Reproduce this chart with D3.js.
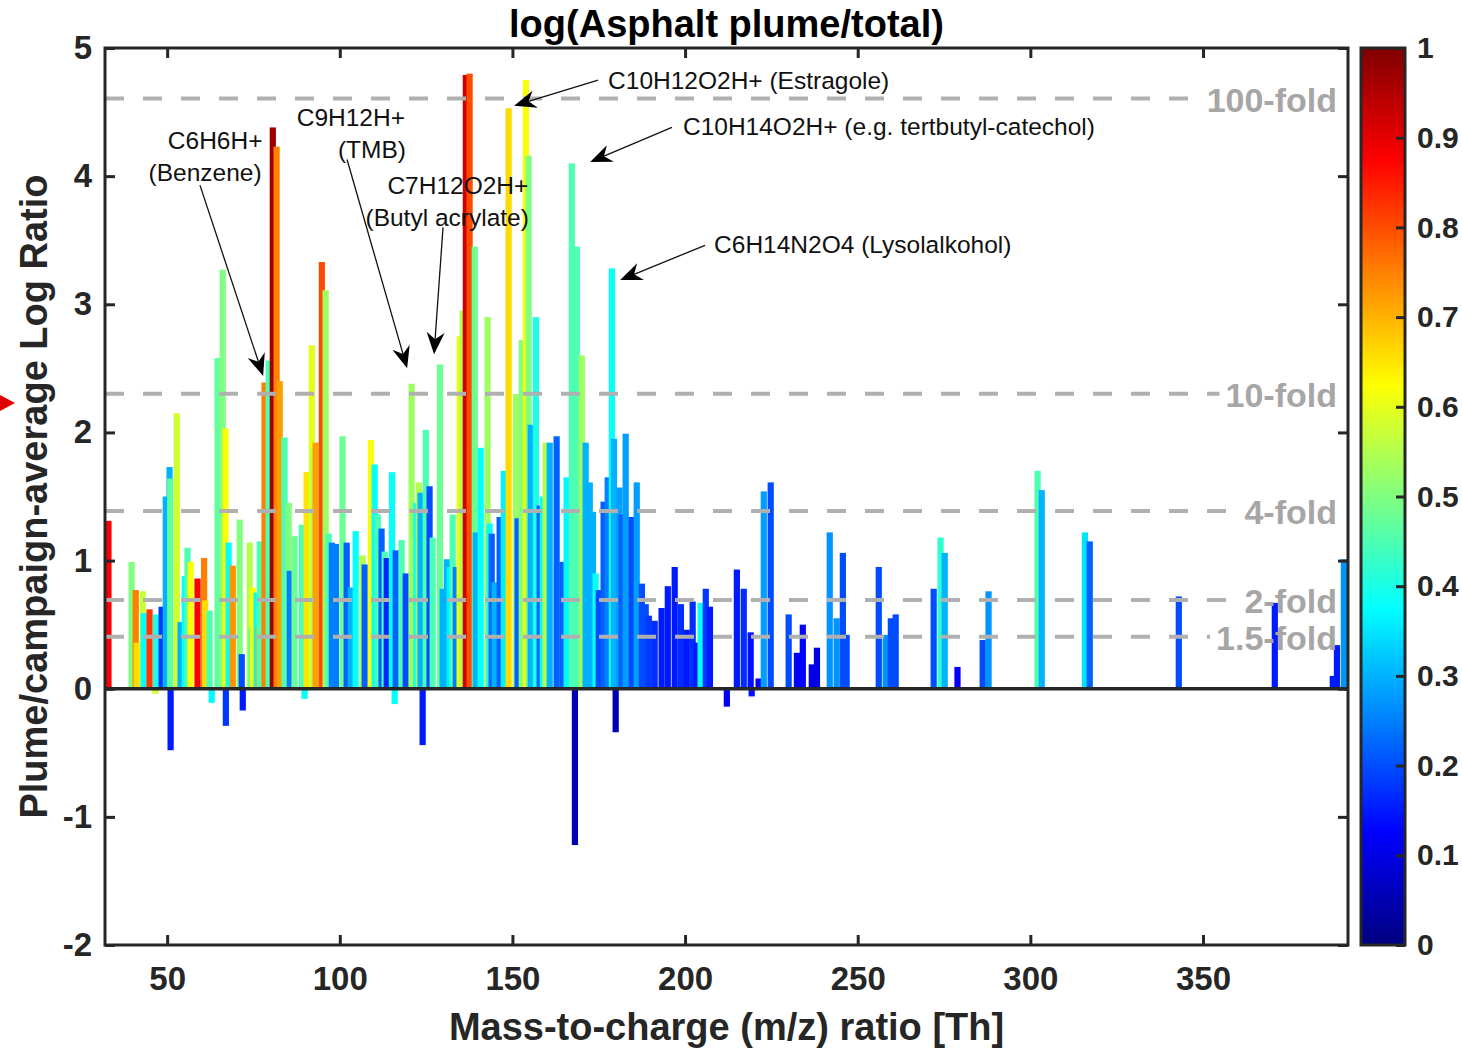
<!DOCTYPE html>
<html>
<head>
<meta charset="utf-8">
<script src="https://cdn.jsdelivr.net/npm/d3@7"></script>
<style>
body { margin: 0; background: #fff; }
text { font-family: Arial, "Liberation Sans", Helvetica, sans-serif; }
</style>
</head>
<body>
<svg id="chart" width="1462" height="1049"></svg>
<script>
// peaks: m/z, log ratio plume/campaign average, colour value (0..1, colourbar)
const mz = [33.0, 39.7, 40.9, 41.2, 42.9, 43.2, 44.9, 46.6, 46.8, 48.4, 49.6, 50.7, 50.9, 51.0, 52.8, 53.9, 55.1, 55.9, 56.8, 58.8,
	60.7, 61.0, 62.3, 62.9, 64.6, 66.1, 66.9, 67.0, 67.8, 69.0, 71.0, 71.6, 71.9, 73.9, 74.5, 74.8, 75.9, 76.5, 76.8, 78.2,
	79.4, 80.6, 81.7, 82.6, 84.0, 85.2, 85.5, 86.9, 89.0, 89.8, 90.4, 91.9, 92.4, 93.0, 94.8, 95.9, 96.8, 97.7, 98.9, 100.8,
	102.0, 103.2, 104.6, 106.6, 107.2, 109.0, 110.1, 111.0, 112.1, 113.0, 113.6, 115.1, 115.9, 116.2, 117.9, 119.1, 120.8, 122.2, 122.9, 123.4,
	124.0, 124.9, 126.0, 126.9, 129.0, 129.8, 131.0, 131.8, 132.7, 133.6, 134.7, 135.6, 136.5, 137.6, 139.1, 139.4, 140.8, 142.8, 143.4, 144.0,
	144.9, 146.3, 147.5, 148.9, 151.0, 151.5, 152.7, 153.9, 154.7, 155.3, 155.9, 156.8, 157.9, 158.8, 159.6, 160.8, 162.8, 164.5, 165.7, 167.2,
	168.1, 168.7, 170.1, 171.2, 172.4, 173.3, 174.1, 175.0, 176.4, 177.6, 178.8, 179.4, 179.9, 181.0, 181.6, 182.8, 184.5, 186.0, 187.5, 188.6,
	189.5, 191.2, 193.2, 195.0, 197.0, 198.8, 200.5, 202.2, 203.4, 204.5, 206.0, 207.2, 212.1, 215.0, 217.0, 219.0, 219.3, 221.3, 222.8, 224.8,
	230.0, 232.4, 234.1, 236.7, 238.2, 241.9, 243.9, 245.7, 246.8, 256.1, 258.1, 259.6, 261.0, 272.0, 274.0, 275.2, 278.9, 286.2, 287.9, 302.1,
	303.3, 315.8, 317.2, 343.0, 370.8, 387.6, 388.8, 390.8];
const logRatio = [1.31, 0.99, 0.77, 0.36, 0.76, 0.59, 0.62, -0.04, 0.58, 0.64, 1.50, 1.73, 1.64, -0.48, 2.15, 0.52, 0.88, 1.10, 0.99, 0.86,
	1.02, 0.69, 0.61, -0.11, 2.58, 3.27, 2.03, -0.29, 1.14, 0.96, 1.32, 0.27, -0.17, 1.14, 0.47, 0.79, 0.75, 0.48, 1.15, 2.39,
	2.56, 4.38, 4.23, 2.40, 1.96, 1.45, 0.92, 1.19, 1.28, -0.08, 1.69, 2.68, 1.87, 1.92, 3.33, 3.11, 1.21, 1.14, 1.13, 1.97,
	1.14, 0.79, 1.23, 1.04, 0.97, 1.94, 1.75, 1.36, 1.25, 1.07, 1.02, 1.69, -0.12, 1.08, 1.16, 0.90, 2.38, 1.45, 1.61, 1.53,
	-0.44, 2.02, 1.58, 1.18, 2.53, 0.78, 1.01, 0.95, 1.36, 0.95, 2.75, 2.95, 4.79, 4.80, 3.45, 1.22, 1.88, 2.90, 1.29, 1.21,
	0.83, 1.34, 1.70, 4.53, 2.30, 1.33, 2.72, 4.75, 4.16, 2.06, 1.49, 2.90, 1.43, 1.50, 1.92, 1.92, 1.97, 0.99, 1.65, 4.10,
	-1.22, 3.45, 2.60, 1.92, 1.61, 1.38, 0.90, 0.77, 1.46, 1.65, 3.28, 1.95, -0.34, 1.57, 1.36, 1.99, 1.34, 1.61, 0.82, 0.66,
	0.57, 0.53, 0.63, 0.80, 0.95, 0.66, 0.46, 0.68, 0.36, 0.67, 0.78, 0.64, -0.14, 0.93, 0.78, 0.44, -0.06, 0.08, 1.54, 1.61,
	0.58, 0.28, 0.50, 0.19, 0.32, 1.22, 0.55, 1.06, 0.42, 0.95, 0.42, 0.55, 0.58, 0.78, 1.18, 1.06, 0.17, 0.38, 0.76, 1.70,
	1.55, 1.22, 1.15, 0.72, 0.67, 0.10, 0.34, 1.01];
const colourVal = [0.88, 0.50, 0.75, 0.66, 0.57, 0.38, 0.82, 0.58, 0.40, 0.18, 0.30, 0.30, 0.47, 0.15, 0.58, 0.30, 0.38, 0.45, 0.62, 0.88,
	0.75, 0.66, 0.45, 0.37, 0.47, 0.50, 0.62, 0.18, 0.38, 0.73, 0.50, 0.20, 0.15, 0.55, 0.38, 0.62, 0.38, 0.72, 0.45, 0.75,
	0.45, 0.97, 0.75, 0.72, 0.45, 0.50, 0.25, 0.48, 0.45, 0.38, 0.65, 0.60, 0.55, 0.72, 0.80, 0.53, 0.45, 0.25, 0.25, 0.48,
	0.22, 0.30, 0.38, 0.55, 0.22, 0.62, 0.38, 0.45, 0.22, 0.45, 0.16, 0.38, 0.38, 0.22, 0.45, 0.20, 0.53, 0.38, 0.55, 0.30,
	0.15, 0.45, 0.20, 0.45, 0.48, 0.30, 0.30, 0.36, 0.45, 0.25, 0.60, 0.55, 0.92, 0.80, 0.48, 0.30, 0.38, 0.53, 0.38, 0.22,
	0.30, 0.22, 0.36, 0.66, 0.53, 0.22, 0.50, 0.62, 0.50, 0.30, 0.30, 0.40, 0.22, 0.38, 0.55, 0.30, 0.22, 0.22, 0.37, 0.45,
	0.05, 0.45, 0.53, 0.30, 0.30, 0.30, 0.38, 0.20, 0.22, 0.25, 0.38, 0.30, 0.05, 0.28, 0.22, 0.28, 0.20, 0.28, 0.20, 0.20,
	0.18, 0.17, 0.15, 0.15, 0.15, 0.17, 0.15, 0.17, 0.15, 0.38, 0.18, 0.15, 0.12, 0.15, 0.17, 0.14, 0.14, 0.12, 0.28, 0.20,
	0.20, 0.12, 0.13, 0.10, 0.10, 0.27, 0.27, 0.20, 0.20, 0.20, 0.27, 0.20, 0.20, 0.20, 0.42, 0.30, 0.12, 0.20, 0.27, 0.45,
	0.30, 0.35, 0.22, 0.20, 0.15, 0.15, 0.15, 0.27];

const xTicks = [50, 100, 150, 200, 250, 300, 350];
const yTicks = [-2, -1, 0, 1, 2, 3, 4, 5];
const cbTicks = [0, 0.1, 0.2, 0.3, 0.4, 0.5, 0.6, 0.7, 0.8, 0.9, 1];
const foldLevels = [100, 10, 4, 2, 1.5];
const foldLabels = ["100-fold", "10-fold", "4-fold", "2-fold", "1.5-fold"];

// annotation labels and arrows, in data units
const annotLabels = [
	{text: "C6H6H+", mz: 63.9, v: 4.28, anchor: "middle"},
	{text: "(Benzene)", mz: 61.0, v: 4.03, anchor: "middle"},
	{text: "C9H12H+", mz: 103.2, v: 4.46, anchor: "middle"},
	{text: "(TMB)", mz: 109.3, v: 4.21, anchor: "middle"},
	{text: "C7H12O2H+", mz: 134.2, v: 3.93, anchor: "middle"},
	{text: "(Butyl acrylate)", mz: 131.1, v: 3.68, anchor: "middle"},
	{text: "C10H12O2H+ (Estragole)", mz: 177.7, v: 4.75, anchor: "start"},
	{text: "C10H14O2H+ (e.g. tertbutyl-catechol)", mz: 199.4, v: 4.39, anchor: "start"},
	{text: "C6H14N2O4 (Lysolalkohol)", mz: 208.4, v: 3.47, anchor: "start"}
];
const annotArrows = [
	{from: [59.5, 3.93], to: [77.8, 2.44]},
	{from: [102.1, 4.13], to: [119.5, 2.50]},
	{from: [129.9, 3.60], to: [127.3, 2.61]},
	{from: [174.8, 4.75], to: [150.5, 4.55]},
	{from: [196.2, 4.38], to: [172.5, 4.11]},
	{from: [205.8, 3.46], to: [181.2, 3.19]}
];

const axisColor = "#262626";
const pLeft = 105, pRight = 1348, pTop = 48, pBottom = 945;
const barWidth = 1.8;

function jet(t) {
	const c = v => Math.max(0, Math.min(1, v));
	return d3.rgb(255 * c(1.5 - Math.abs(4 * t - 3)), 255 * c(1.5 - Math.abs(4 * t - 2)), 255 * c(1.5 - Math.abs(4 * t - 1))).formatHex();
}

const svg = d3.select("#chart");
const x = d3.scaleLinear().domain([32, 392]).range([pLeft, pRight]);
const y = d3.scaleLinear().domain([-2, 5]).range([pBottom, pTop]);

const defs = svg.append("defs");
defs.append("clipPath").attr("id", "plotClip")
	.append("rect").attr("x", pLeft).attr("y", pTop).attr("width", pRight - pLeft).attr("height", pBottom - pTop);

// bars
const peaks = mz.map((m, i) => ({mz: m, v: logRatio[i], c: colourVal[i]}));
svg.append("g").attr("clip-path", "url(#plotClip)")
	.selectAll("rect").data(peaks).join("rect")
	.attr("x", d => x(d.mz - barWidth / 2))
	.attr("width", x(barWidth) - x(0))
	.attr("y", d => y(Math.max(0, d.v)))
	.attr("height", d => Math.abs(y(d.v) - y(0)))
	.attr("fill", d => jet(d.c));

// fold-change reference lines, each stopping just before its label
const folds = foldLevels.map((f, i) => ({level: Math.log(f), label: foldLabels[i]}));
const foldLineG = svg.append("g");
const foldText = svg.append("g").selectAll("text").data(folds).join("text")
	.attr("x", pRight - 11).attr("y", d => y(d.level) + 1)
	.attr("dominant-baseline", "central")
	.attr("text-anchor", "end")
	.attr("font-size", 34).attr("font-weight", "bold")
	.attr("fill", "#a6a6a6")
	.text(d => d.label);
foldText.each(function (d) { d.start = this.getBBox().x; });
foldLineG.selectAll("line").data(folds).join("line")
	.attr("x1", pLeft).attr("x2", d => d.start - 6)
	.attr("y1", d => y(d.level)).attr("y2", d => y(d.level))
	.attr("stroke", "#b0b0b0").attr("stroke-width", 4).attr("stroke-dasharray", "19,19");

// baseline
svg.append("line").attr("x1", pLeft).attr("x2", pRight).attr("y1", y(0)).attr("y2", y(0))
	.attr("stroke", axisColor).attr("stroke-width", 3.5);

// axes
function styleAxis(g, size) {
	g.select(".domain").remove();
	g.selectAll(".tick line").attr("stroke", axisColor).attr("stroke-width", 3);
	g.selectAll(".tick text").attr("font-size", size).attr("font-weight", "bold").attr("fill", axisColor)
		.attr("font-family", "Arial, 'Liberation Sans', sans-serif");
}
svg.append("g").attr("transform", `translate(0,${pBottom})`)
	.call(d3.axisBottom(x).tickValues(xTicks).tickSize(-10).tickPadding(22).tickFormat(d => String(d)))
	.call(g => styleAxis(g, 33));
svg.append("g").attr("transform", `translate(0,${pTop})`)
	.call(d3.axisTop(x).tickValues(xTicks).tickSize(-10).tickFormat(""))
	.call(g => styleAxis(g, 33));
svg.append("g").attr("transform", `translate(${pLeft},0)`)
	.call(d3.axisLeft(y).tickValues(yTicks).tickSize(-10).tickPadding(13).tickFormat(d => String(d)))
	.call(g => styleAxis(g, 33));
svg.append("g").attr("transform", `translate(${pRight},0)`)
	.call(d3.axisRight(y).tickValues(yTicks).tickSize(-10).tickFormat(""))
	.call(g => styleAxis(g, 33));

svg.append("rect").attr("x", pLeft).attr("y", pTop).attr("width", pRight - pLeft).attr("height", pBottom - pTop)
	.attr("fill", "none").attr("stroke", axisColor).attr("stroke-width", 3);

// colourbar
const cbLeft = 1361, cbRight = 1405;
const cy = d3.scaleLinear().domain([0, 1]).range([pBottom, pTop]);
const grad = defs.append("linearGradient").attr("id", "jetGrad")
	.attr("x1", 0).attr("y1", 1).attr("x2", 0).attr("y2", 0);
grad.selectAll("stop").data(d3.range(0, 1.0001, 1 / 64)).join("stop")
	.attr("offset", d => d).attr("stop-color", d => jet(d));
svg.append("rect").attr("x", cbLeft).attr("y", pTop).attr("width", cbRight - cbLeft).attr("height", pBottom - pTop)
	.attr("fill", "url(#jetGrad)");
svg.append("g").attr("transform", `translate(${cbRight},0)`)
	.call(d3.axisRight(cy).tickValues(cbTicks).tickSize(-9).tickPadding(12)
		.tickFormat(d => (d === 0 || d === 1) ? String(d) : d.toFixed(1)))
	.call(g => styleAxis(g, 30));
svg.append("rect").attr("x", cbLeft).attr("y", pTop).attr("width", cbRight - cbLeft).attr("height", pBottom - pTop)
	.attr("fill", "none").attr("stroke", axisColor).attr("stroke-width", 3);

// titles
svg.append("text").attr("x", (pLeft + pRight) / 2).attr("y", 37)
	.attr("text-anchor", "middle").attr("font-size", 38).attr("font-weight", "bold").attr("fill", "#000")
	.text("log(Asphalt plume/total)");
svg.append("text").attr("x", (pLeft + pRight) / 2).attr("y", 1040)
	.attr("text-anchor", "middle").attr("font-size", 38).attr("font-weight", "bold").attr("fill", axisColor)
	.text("Mass-to-charge (m/z) ratio [Th]");
svg.append("text").attr("transform", `translate(47,${(pTop + pBottom) / 2}) rotate(-90)`)
	.attr("text-anchor", "middle").attr("font-size", 38).attr("font-weight", "bold").attr("fill", axisColor)
	.text("Plume/campaign-average Log Ratio");

// annotations
svg.append("g").selectAll("text").data(annotLabels).join("text")
	.attr("x", d => x(d.mz)).attr("y", d => y(d.v))
	.attr("text-anchor", d => d.anchor)
	.attr("dominant-baseline", "central")
	.attr("font-size", 24.5).attr("fill", "#111")
	.text(d => d.text);

const arrowG = svg.append("g");
annotArrows.forEach(a => {
	const x0 = x(a.from[0]), y0 = y(a.from[1]), x1 = x(a.to[0]), y1 = y(a.to[1]);
	const ang = Math.atan2(y1 - y0, x1 - x0);
	const len = 22, half = 9, notch = 15;
	const ux = Math.cos(ang), uy = Math.sin(ang), px = -uy, py = ux;
	arrowG.append("line")
		.attr("x1", x0).attr("y1", y0)
		.attr("x2", x1 - ux * notch).attr("y2", y1 - uy * notch)
		.attr("stroke", "#111").attr("stroke-width", 1.3);
	const pts = [
		[x1, y1],
		[x1 - ux * len + px * half, y1 - uy * len + py * half],
		[x1 - ux * notch, y1 - uy * notch],
		[x1 - ux * len - px * half, y1 - uy * len - py * half]
	];
	arrowG.append("polygon").attr("points", pts.map(p => p.join(",")).join(" ")).attr("fill", "#000");
});

// red pointer at the left edge of the screenshot
svg.append("polygon").attr("points", "0,395 15,403 0,411").attr("fill", "#e00000");
</script>
</body>
</html>
